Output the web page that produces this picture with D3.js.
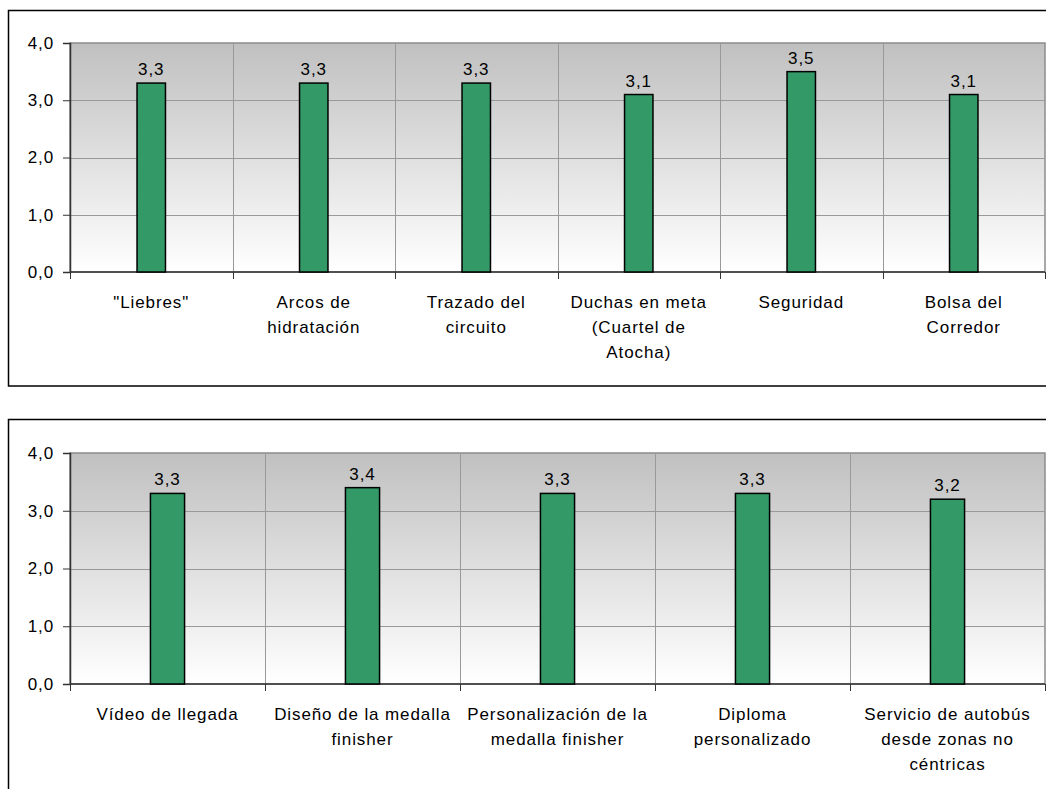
<!DOCTYPE html>
<html>
<head>
<meta charset="utf-8">
<script src="https://cdn.jsdelivr.net/npm/d3@7"></script>
<style>
  body { margin: 0; background: #fff; }
  svg text { font-family: "Liberation Sans", Arial, sans-serif; font-size: 17px; letter-spacing: 0.9px; fill: #000; }
</style>
</head>
<body>
<div id="chart"></div>
<script>
// valores
var categoriasA = ['"Liebres"', 'Arcos de\nhidratación', 'Trazado del\ncircuito',
    'Duchas en meta\n(Cuartel de\nAtocha)', 'Seguridad', 'Bolsa del\nCorredor'];
var valoresA = [3.3, 3.3, 3.3, 3.1, 3.5, 3.1];

var categoriasB = ['Vídeo de llegada', 'Diseño de la medalla\nfinisher', 'Personalización de la\nmedalla finisher',
    'Diploma\npersonalizado', 'Servicio de autobús\ndesde zonas no\ncéntricas'];
var valoresB = [3.3, 3.4, 3.3, 3.3, 3.2];

var yTicks = [0, 1, 2, 3, 4];

var width = 1046, height = 789;
var locale = d3.formatLocale({decimal: ",", thousands: ".", grouping: [3], currency: ["", "€"]});
var fmt = locale.format(".1f");

var svg = d3.select("#chart").append("svg")
    .attr("width", width)
    .attr("height", height);

var defs = svg.append("defs");
var grad = defs.append("linearGradient")
    .attr("id", "fondo")
    .attr("x1", 0).attr("y1", 0).attr("x2", 0).attr("y2", 1);
grad.append("stop").attr("offset", "0%").attr("stop-color", "#c0c0c0");
grad.append("stop").attr("offset", "100%").attr("stop-color", "#ffffff");

function drawPanel(cats, vals, frame, plot) {
    var data = cats.map(function(c, i) { return {cat: c, value: vals[i]}; });

    svg.append("rect")
        .attr("x", frame.x).attr("y", frame.y)
        .attr("width", frame.w).attr("height", frame.h)
        .attr("fill", "#fff")
        .attr("stroke", "#000")
        .attr("stroke-width", 1.5);

    var x = d3.scaleBand().domain(cats).range([plot.left, plot.right]).padding(0);
    var y = d3.scaleLinear().domain([0, 4]).range([plot.bottom, plot.top]);

    var g = svg.append("g");

    g.append("rect")
        .attr("x", plot.left).attr("y", plot.top)
        .attr("width", plot.right - plot.left)
        .attr("height", plot.bottom - plot.top)
        .attr("fill", "url(#fondo)")
        .attr("stroke", "#8c8c8c")
        .attr("stroke-width", 1.5);

    // lineas de cuadricula
    g.selectAll(".hgrid")
        .data(yTicks.slice(1, -1))
        .enter().append("line")
        .attr("x1", plot.left).attr("x2", plot.right)
        .attr("y1", function(d) { return Math.round(y(d)) + 0.5; })
        .attr("y2", function(d) { return Math.round(y(d)) + 0.5; })
        .attr("stroke", "#999")
        .attr("stroke-width", 1);

    g.selectAll(".vgrid")
        .data(cats.slice(1))
        .enter().append("line")
        .attr("x1", function(d) { return Math.round(x(d)) + 0.5; })
        .attr("x2", function(d) { return Math.round(x(d)) + 0.5; })
        .attr("y1", plot.top).attr("y2", plot.bottom)
        .attr("stroke", "#999")
        .attr("stroke-width", 1);

    // eje y
    var yAxis = g.append("g")
        .attr("transform", "translate(" + plot.left + ",0)")
        .call(d3.axisLeft(y).tickValues(yTicks).tickFormat(fmt).tickSize(7).tickPadding(9));
    yAxis.select(".domain").attr("stroke", "#333").attr("stroke-width", 1.5);
    yAxis.selectAll(".tick line").attr("stroke", "#333");
    yAxis.selectAll("text").attr("font-size", null).attr("font-family", null).attr("fill", "#000");

    // eje x con marcas en los limites de categoria
    var bounds = cats.map(function(c) { return x(c); }).concat([plot.right]);
    g.append("line")
        .attr("x1", plot.left).attr("x2", plot.right)
        .attr("y1", plot.bottom).attr("y2", plot.bottom)
        .attr("stroke", "#333").attr("stroke-width", 1.5);
    g.selectAll(".xtick")
        .data(bounds)
        .enter().append("line")
        .attr("x1", function(d) { return Math.round(d) + 0.5; })
        .attr("x2", function(d) { return Math.round(d) + 0.5; })
        .attr("y1", plot.bottom).attr("y2", plot.bottom + 7)
        .attr("stroke", "#333");

    var labels = g.selectAll(".xlab")
        .data(cats)
        .enter().append("text")
        .attr("text-anchor", "middle")
        .attr("transform", function(d) {
            return "translate(" + (x(d) + x.bandwidth() / 2) + "," + (plot.bottom + 36) + ")";
        });
    labels.each(function(d) {
        var t = d3.select(this);
        d.split("\n").forEach(function(line, i) {
            t.append("tspan").attr("x", 0).attr("y", i * 25).text(line);
        });
    });

    // barras
    var bw = x.bandwidth() * 0.175;
    g.selectAll(".bar")
        .data(data)
        .enter().append("rect")
        .attr("class", "bar")
        .attr("x", function(d) { return x(d.cat) + x.bandwidth() / 2 - bw / 2; })
        .attr("y", function(d) { return y(d.value); })
        .attr("width", bw)
        .attr("height", function(d) { return plot.bottom - y(d.value); })
        .attr("fill", "#339966")
        .attr("stroke", "#000")
        .attr("stroke-width", 1.5);

    g.selectAll(".vlab")
        .data(data)
        .enter().append("text")
        .attr("text-anchor", "middle")
        .attr("x", function(d) { return x(d.cat) + x.bandwidth() / 2; })
        .attr("y", function(d) { return y(d.value) - 8; })
        .text(function(d) { return fmt(d.value); });
}

drawPanel(categoriasA, valoresA,
    {x: 8.5, y: 10.5, w: 1050, h: 375.5},
    {left: 70, right: 1045, top: 43, bottom: 272});

drawPanel(categoriasB, valoresB,
    {x: 8.5, y: 419.5, w: 1050, h: 400},
    {left: 70, right: 1045, top: 453, bottom: 684});
</script>
</body>
</html>
